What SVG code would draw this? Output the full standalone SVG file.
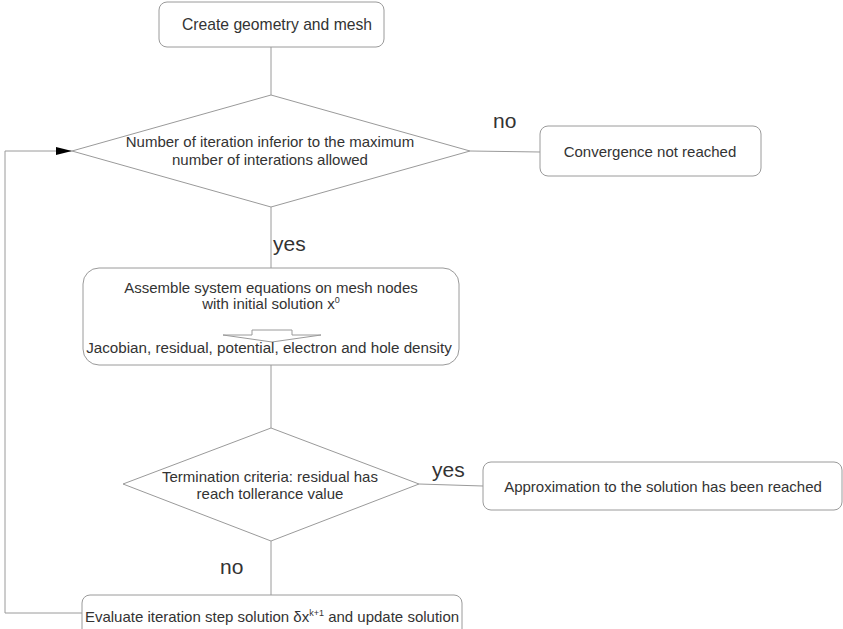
<svg xmlns="http://www.w3.org/2000/svg" width="843" height="629" viewBox="0 0 843 629">
<style>
.box{fill:#fff;stroke:#9a9a9a;stroke-width:1}
.dia{fill:#fff;stroke:#9a9a9a;stroke-width:1}
.ln{fill:none;stroke:#9a9a9a;stroke-width:1}
.t{font-family:"Liberation Sans",Arial,sans-serif;font-size:15px;fill:#333;text-anchor:middle}
.lbl{font-family:"Liberation Sans",Arial,sans-serif;font-size:21px;fill:#333}
.sup{font-size:9px}
</style>
<defs>
<marker id="ah" markerWidth="16" markerHeight="8" refX="16" refY="4" orient="auto" markerUnits="userSpaceOnUse">
<path d="M0,0 L16,4 L0,8 Z" fill="#000"/>
</marker>
</defs>
<rect width="843" height="629" fill="#fff"/>
<g id="connectors">
<line class="ln" x1="271" y1="47" x2="271" y2="95"/>
<line class="ln" x1="470" y1="151" x2="540" y2="152"/>
<line class="ln" x1="271" y1="207" x2="271" y2="268"/>
<line class="ln" x1="271" y1="365" x2="271" y2="428"/>
<line class="ln" x1="419" y1="484" x2="483" y2="486"/>
<line class="ln" x1="271" y1="541" x2="271" y2="595"/>
<polyline class="ln" points="82,613 5,613 5,151 72,151" marker-end="url(#ah)"/>
<text class="lbl" x="493" y="128">no</text>
<text class="lbl" x="273" y="251">yes</text>
<text class="lbl" x="432" y="477">yes</text>
<text class="lbl" x="220" y="574">no</text>
</g>
<g id="n_create">
<rect class="box" x="159" y="2" width="225" height="45" rx="8"/>
<text class="t" x="277" y="30" style="font-size:15.7px">Create geometry and mesh</text>
</g>
<g id="n_iter">
<polygon class="dia" points="271,95 470,151 271,207 72,151"/>
<text class="t" x="270" y="147">Number of iteration inferior to the maximum</text>
<text class="t" x="270" y="165">number of interations allowed</text>
</g>
<g id="n_conv">
<rect class="box" x="540" y="126" width="221" height="50" rx="8"/>
<text class="t" x="650" y="157">Convergence not reached</text>
</g>
<g id="n_assemble">
<rect class="box" x="83" y="268" width="376" height="97" rx="16"/>
<text class="t" x="271" y="293">Assemble system equations on mesh nodes</text>
<text class="t" x="271" y="309">with initial solution x<tspan class="sup" dy="-6">0</tspan></text>
<path class="ln" d="M252,330 L292,330 L292,335 L321,335 L272,342 L223,335 L252,335 Z" fill="#fff"/>
<text class="t" x="269" y="353" style="font-size:15.2px">Jacobian, residual, potential, electron and hole density</text>
</g>
<g id="n_term">
<polygon class="dia" points="271,428 419,484 271,541 123,484"/>
<text class="t" x="270" y="482">Termination criteria: residual has</text>
<text class="t" x="270" y="499">reach tollerance value</text>
</g>
<g id="n_approx">
<rect class="box" x="483" y="462" width="359" height="48" rx="8"/>
<text class="t" x="663" y="492">Approximation to the solution has been reached</text>
</g>
<g id="n_eval">
<rect class="box" x="82" y="595" width="380" height="50" rx="8"/>
<text class="t" x="272" y="622">Evaluate iteration step solution δx<tspan class="sup" dy="-6">k+1</tspan><tspan dy="6"> and update solution</tspan></text>
</g>
</svg>
